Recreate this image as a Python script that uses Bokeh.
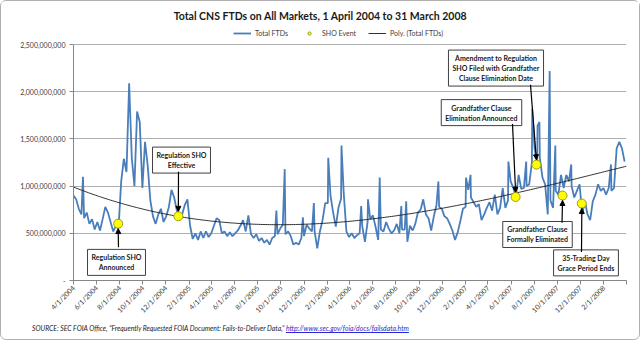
import numpy as np
import pandas as pd
from bokeh.plotting import figure
from bokeh.layouts import column
from bokeh.models import (Range1d, FixedTicker, Legend, LegendItem, Label, Arrow,
                          NormalHead, ColumnDataSource, CustomJSTickFormatter, Div)
from bokeh.embed import file_html
from bokeh.resources import INLINE

# ---------------- data ----------------
series_start = "2004-04-01"          # weekly readings of the typical level of total CNS FTDs
ftd_weekly_millions = [
    900, 860, 760, 700, 660, 720, 600, 650, 540, 620,
    530, 650, 780, 720, 620, 520, 580, 560,
    1050, 1290, 1150, 2090, 1300, 1000, 1790, 1680, 980, 1470, 1220, 850,
    680, 600, 700, 760, 620, 680, 780, 960, 880, 740,
    660, 700, 800, 860, 580, 440, 500, 430, 520, 450, 520, 460,
    500, 580, 660, 640, 500, 520, 470, 510,
    470, 500, 530, 580, 640, 520, 690, 490, 450, 490,
    420, 450, 400, 430, 380, 450, 470, 490, 550, 590,
    490, 520, 470, 380, 400, 380, 450, 470, 590, 550,
    520, 520, 340, 520, 640, 820, 820, 900, 720, 570,
    770, 870, 920,
    520, 460, 500, 450, 480, 500, 570,
    410, 620, 650, 690, 570, 430, 540, 520, 620, 550,
    500, 530, 600, 500, 540, 540, 410, 580, 530, 600,
    720, 750, 860, 700, 660, 530, 680, 800, 780, 760,
    680, 660, 600, 530, 430, 510, 630, 760, 780, 960,
    880, 830, 780,
    810, 640, 700, 770, 830, 740, 910,
    700, 770, 980, 770, 850, 1050, 980, 890, 1120, 970,
    980, 1000, 1020, 1250, 1400, 1250, 1300, 1090, 1020, 700,
    850, 770, 950, 910, 1120, 980, 1120, 1050, 1000, 880,
    950, 1020, 700, 840, 700, 640, 840, 910, 1020, 950,
    980, 910, 980, 950, 980, 1400, 1470, 1400, 1260,
]
# single-day spikes between the weekly readings
spike_dates = ["2004-04-26", "2005-09-19", "2005-10-11", "2005-11-28", "2005-12-27",
               "2006-02-03", "2006-03-10", "2006-05-01", "2006-05-19", "2006-06-19",
               "2006-08-15", "2006-08-28", "2006-11-21", "2007-02-02", "2007-02-14",
               "2007-05-25", "2007-07-11", "2007-07-27", "2007-08-10", "2007-08-15",
               "2007-09-11", "2007-09-26", "2007-11-07", "2008-02-20"]
spike_millions = [1100, 740, 1180, 670, 820,
                  1300, 1430, 790, 860, 1090,
                  790, 840, 1050, 1090, 1120,
                  1260, 1260, 1820, 1640, 1680,
                  2220, 1430, 1230, 1230]

event_names = ["Regulation SHO\nAnnounced",
               "Regulation SHO\nEffective",
               "Grandfather Clause\nElimination Announced",
               "Amendment to Regulation\nSHO Filed with Grandfather\nClause Elimination Date",
               "Grandfather Clause\nFormally Eliminated",
               "35-Trading Day\nGrace Period Ends"]
event_dates = ["2004-07-28", "2005-01-03", "2007-06-13", "2007-08-07", "2007-10-15", "2007-12-05"]
event_millions = [602, 681, 885, 1228, 900, 815]

x_tick_labels = ["4/1/2004", "6/1/2004", "8/1/2004", "10/1/2004", "12/1/2004",
                 "2/1/2005", "4/1/2005", "6/1/2005", "8/1/2005", "10/1/2005", "12/1/2005",
                 "2/1/2006", "4/1/2006", "6/1/2006", "8/1/2006", "10/1/2006", "12/1/2006",
                 "2/1/2007", "4/1/2007", "6/1/2007", "8/1/2007", "10/1/2007", "12/1/2007",
                 "2/1/2008"]
y_ticks = [0, 500_000_000, 1_000_000_000, 1_500_000_000, 2_000_000_000, 2_500_000_000]

title_text = "Total CNS FTDs on All Markets, 1 April 2004 to 31 March 2008"
source_text = "SOURCE: SEC FOIA Office, \u201cFrequently Requested FOIA Document: Fails-to-Deliver Data,\u201d "
source_url = "http://www.sec.gov/foia/docs/failsdata.htm"

# ---------------- build ----------------
weekly = pd.Series(np.array(ftd_weekly_millions, dtype=float) * 1e6,
                   index=pd.date_range(series_start, periods=len(ftd_weekly_millions), freq="7D"))
spikes = pd.Series(np.array(spike_millions, dtype=float) * 1e6, index=pd.to_datetime(spike_dates))
series = pd.concat([weekly, spikes]).sort_index()
dates, ftd = series.index, series.values

ev_dates = pd.to_datetime(event_dates)
ev_vals = np.array(event_millions, dtype=float) * 1e6

x0 = pd.Timestamp("2004-04-01")
x1 = pd.Timestamp("2008-04-01")

# figure geometry (page has a 1px border around the whole thing)
W, H = 638, 318
BL, BR, BT, BB = 72, 13, 0, 33
FW, FH = W - BL - BR, H - BT - BB          # frame: 553 x 285
YMAX = 2.5e9
Y_AT_PX = 44                                # fig-px row of the 2.5e9 gridline
YTOP = YMAX * FH / (FH - Y_AT_PX)

def ms(ts):
    return pd.Timestamp(ts).value / 1e6

def px2x(page_px):
    return ms(x0) + (page_px - 1 - BL) / FW * (ms(x1) - ms(x0))

def px2y(page_py):
    return (FH - (page_py - 1)) / FH * YTOP

FONT = "Lato"

p = figure(width=W, height=H, x_axis_type="datetime", output_backend="svg",
           toolbar_location=None, min_border_left=BL, min_border_right=BR,
           min_border_top=BT, min_border_bottom=BB,
           x_range=Range1d(x0, x1), y_range=Range1d(0, YTOP))
p.outline_line_color = None
p.background_fill_color = "white"
p.border_fill_color = "white"

src = ColumnDataSource(dict(x=dates, y=ftd))
r_line = p.line("x", "y", source=src, line_color="#4A7EBB", line_width=1.8)

# polynomial (order 3) trend fitted to the series
days = (dates - x0).days.values.astype(float)
coef = np.polyfit(days, ftd, 3)
tdays = np.linspace(0, (x1 - x0).days, 300)
tx = x0 + pd.to_timedelta(tdays, unit="D")
r_trend = p.line(tx, np.polyval(coef, tdays), line_color="#1a1a1a", line_width=0.9)

ev_src = ColumnDataSource(dict(x=ev_dates, y=ev_vals))
r_ev = p.scatter("x", "y", source=ev_src, size=9, fill_color="#FFFF00",
                 line_color="#9C9C1C", line_width=1)

# axes
ticks_ms = [ms(pd.to_datetime(t, format="%m/%d/%Y")) for t in x_tick_labels] + [ms(x1)]
p.xaxis.ticker = FixedTicker(ticks=ticks_ms)
p.xaxis.formatter = CustomJSTickFormatter(code="""
    const d = new Date(tick);
    if (d.getUTCFullYear() == 2008 && d.getUTCMonth() == 3) return '';
    return (d.getUTCMonth()+1) + '/' + d.getUTCDate() + '/' + d.getUTCFullYear();
""")
p.xaxis.major_label_orientation = np.pi / 4
p.xaxis.major_label_text_font_size = "7px"
p.xaxis.major_label_text_font = FONT
p.xaxis.major_label_text_color = "#404040"
p.xaxis.axis_line_color = "#868686"
p.xaxis.major_tick_line_color = "#868686"
p.xaxis.major_tick_out = 4
p.xaxis.major_tick_in = 0
p.xaxis.minor_tick_line_color = None
p.xaxis.major_label_standoff = 2

p.yaxis.ticker = FixedTicker(ticks=y_ticks)
p.yaxis.bounds = (0, YMAX)
p.yaxis.formatter = CustomJSTickFormatter(code="""
    return tick == 0 ? '-' : Math.round(tick).toLocaleString('en-US');
""")
p.yaxis.major_label_text_font_size = "7px"
p.yaxis.major_label_text_font = FONT
p.yaxis.major_label_text_color = "#404040"
p.yaxis.axis_line_color = "#868686"
p.yaxis.major_tick_line_color = "#868686"
p.yaxis.major_tick_out = 4
p.yaxis.major_tick_in = 0
p.yaxis.minor_tick_line_color = None
p.yaxis.major_label_standoff = 4

p.xgrid.grid_line_color = None
p.ygrid.grid_line_color = "#9a9a9a"
p.ygrid.grid_line_width = 0.8

# title (inside the top strip of the frame)
p.add_layout(Label(x=px2x(320), y=px2y(16), text=title_text, text_align="center",
                   text_baseline="middle", text_font=FONT, text_font_size="10.5px",
                   text_font_style="bold", text_color="#1a1a1a"))

legend = Legend(items=[LegendItem(label="Total FTDs", renderers=[r_line]),
                       LegendItem(label="SHO Event", renderers=[r_ev]),
                       LegendItem(label="Poly. (Total FTDs)", renderers=[r_trend])],
                orientation="horizontal", location=(160, FH - 42))
legend.label_text_font_size = "7px"
legend.label_text_font = FONT
legend.label_text_color = "#404040"
legend.border_line_color = None
legend.background_fill_alpha = 0
legend.glyph_width = 18
legend.glyph_height = 8
legend.spacing = 12
legend.padding = 0
legend.margin = 0
legend.label_standoff = 4
legend.label_height = 8
p.add_layout(legend)

# callout boxes: centre (page px) and arrow start (page px)
boxes = [
    (116, 267.5, (118, 252)),
    (181, 163, (178, 175)),
    (481, 114.5, (512, 126)),
    (495.5, 69, (530, 86)),
    (537, 239, (561.5, 227)),
    (585.5, 268, (581, 257)),
]
for (cx, cy, (ax, ay)), name, ed, ev in zip(boxes, event_names, ev_dates, ev_vals):
    p.add_layout(Label(x=px2x(cx), y=px2y(cy), text=name, text_align="center",
                       text_baseline="middle", text_font=FONT, text_font_size="7px",
                       text_font_style="bold", text_color="#1a1a1a",
                       text_line_height=1.25,
                       background_fill_color="white", border_line_color="#404040",
                       border_line_width=1, padding=4))
    marker_page_py = 1 + FH - ev / YTOP * FH
    end_py = marker_page_py - 5 if ay < marker_page_py else marker_page_py + 5
    p.add_layout(Arrow(x_start=px2x(ax), y_start=px2y(ay),
                       x_end=ms(ed), y_end=px2y(end_py),
                       line_color="black", line_width=1.2,
                       end=NormalHead(size=5, fill_color="black", line_color="black")))

src_div = Div(
    text=(f'<div style="font-family:Lato;font-style:italic;font-size:6.8px;'
          f'line-height:14px;color:#1a1a1a;padding-left:31px;white-space:nowrap">'
          f'{source_text}<span style="color:#2a2ad0;text-decoration:underline">'
          f'{source_url}</span></div>'),
    width=W, height=20, margin=0)

layout = column(p, src_div, spacing=0)
layout.styles = {"border": "1px solid #b0b0b0", "border-radius": "6px",
                 "background-color": "white"}

open("out.html", "w").write(file_html(layout, INLINE))
